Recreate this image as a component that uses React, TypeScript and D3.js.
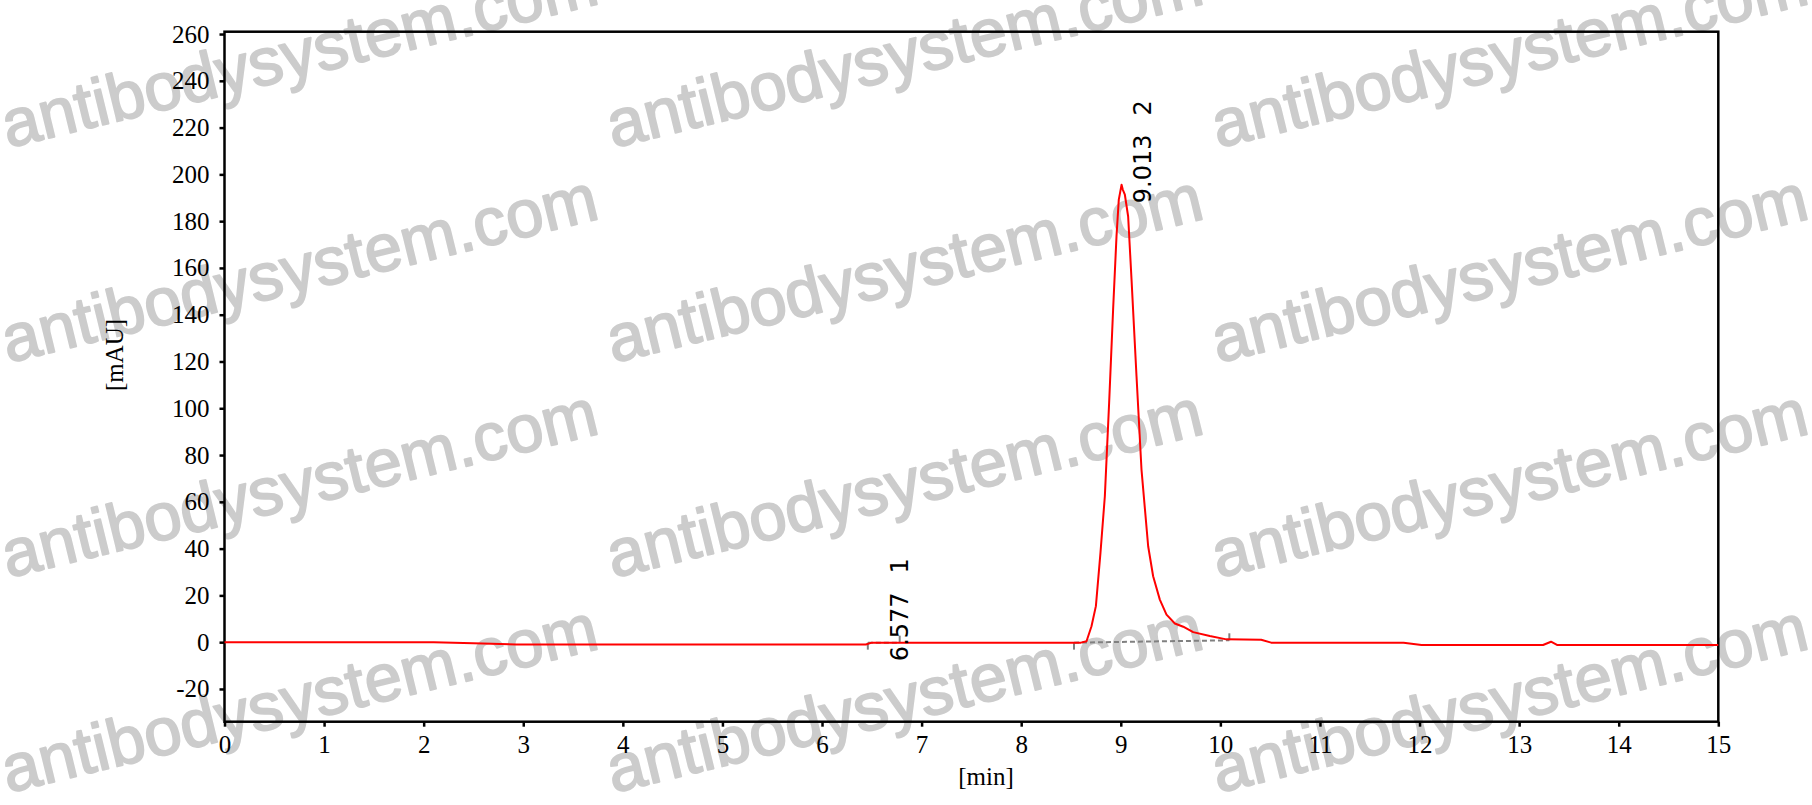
import React, { useEffect, useRef } from 'react';
import { axisBottom, axisLeft, line, scaleLinear, select } from 'd3';

// chromatogram trace
const timeMin = [
  0, 2.1, 2.5, 2.93, 6.44, 6.5, 8.6, 8.656, 8.706, 8.75, 8.796, 8.84, 8.883,
  8.923, 8.957, 8.98, 9.008, 9.02, 9.041, 9.074, 9.108, 9.158, 9.208, 9.275,
  9.325, 9.392, 9.459, 9.543, 9.627, 9.727, 9.894, 10.06, 10.41, 10.51, 11.84,
  12.02, 13.24, 13.32, 13.38, 15,
];
const signalMAU = [
  0, 0, -0.5, -1, -1, -0.2, -0.2, 0.4, 6.8, 15.4, 38.2, 62.4, 102.3, 142.2,
  173.5, 189.2, 195.6, 193.5, 191.3, 182, 155, 113.7, 73.8, 41, 28.2, 18.2,
  11.8, 8, 6.6, 4.3, 2.6, 1.2, 1, -0.2, -0.2, -1.2, -1.2, 0.2, -1.2, -1.2,
];

const xTicks = [0, 1, 2, 3, 4, 5, 6, 7, 8, 9, 10, 11, 12, 13, 14, 15];
const yTicks = [-20, 0, 20, 40, 60, 80, 100, 120, 140, 160, 180, 200, 220, 240, 260];

const peakNumbers = [1, 2];
const peakTimes = [6.577, 9.013];
const peakHeights = [-0.2, 195.6];
const peakStarts = [6.46, 8.53];
const peakEnds = [6.78, 10.09];
const peakStartLevels = [-0.2, -0.2];
const peakEndLevels = [-0.2, 0.8];

const watermarkText = 'antibodysystem.com';

const W = 1812;
const H = 805;
const left = 224.5;
const right = 1718.3;
const top = 31.7;
const bottom = 721.7;

const App: React.FC = () => {
  const svgRef = useRef<SVGSVGElement>(null);

  useEffect(() => {
    const svg = select(svgRef.current);
    svg.selectAll('*').remove();

    const x = scaleLinear().domain([0, 15]).range([left, right]);
    const y = scaleLinear().domain([-34, 261]).range([bottom, top]);

    // watermark grid
    const wm = svg.append('g').attr('class', 'watermark');
    [8, 613, 1218].forEach((cx) => {
      [148, 363, 578, 793].forEach((cy) => {
        wm.append('text')
          .attr('transform', `translate(${cx}, ${cy}) rotate(-13.7)`)
          .attr('font-family', '"Liberation Sans", Arial, sans-serif')
          .attr('font-size', 67)
          .attr('fill', '#cccccc')
          .attr('stroke', '#cccccc')
          .attr('stroke-width', 1.8)
          .attr('stroke-linejoin', 'round')
          .text(watermarkText);
      });
    });

    // axes
    const yAxis = axisLeft(y)
      .tickValues(yTicks)
      .tickSize(5)
      .tickPadding(10)
      .tickFormat((d) => String(d));
    const xAxis = axisBottom(x)
      .tickValues(xTicks)
      .tickSize(5)
      .tickPadding(8.5)
      .tickFormat((d) => String(d));

    const gy = svg.append('g').attr('transform', `translate(${left},0)`).call(yAxis);
    const gx = svg.append('g').attr('transform', `translate(0,${bottom})`).call(xAxis);
    [gx, gy].forEach((g) => {
      g.select('.domain').remove();
      g.selectAll('.tick line').attr('stroke', '#000').attr('stroke-width', 2.5);
      g.selectAll('.tick text')
        .attr('fill', '#000')
        .attr('font-family', '"Liberation Serif", "Times New Roman", serif')
        .attr('font-size', 25);
    });

    // frame
    svg.append('rect')
      .attr('x', left)
      .attr('y', top)
      .attr('width', right - left)
      .attr('height', bottom - top)
      .attr('fill', 'none')
      .attr('stroke', '#000')
      .attr('stroke-width', 2.5);

    // axis titles
    svg.append('text')
      .attr('transform', `translate(${986}, ${785})`)
      .attr('text-anchor', 'middle')
      .attr('font-family', '"Liberation Serif", "Times New Roman", serif')
      .attr('font-size', 25)
      .text('[min]');
    svg.append('text')
      .attr('transform', `translate(${123}, ${355}) rotate(-90)`)
      .attr('text-anchor', 'middle')
      .attr('font-family', '"Liberation Serif", "Times New Roman", serif')
      .attr('font-size', 25)
      .text('[mAU]');

    // integration baselines
    const marks = svg.append('g').attr('stroke', '#808080').attr('stroke-width', 2).attr('fill', 'none');
    peakStarts.forEach((s, i) => {
      const e = peakEnds[i];
      marks.append('line')
        .attr('x1', x(s)).attr('y1', y(peakStartLevels[i]))
        .attr('x2', x(e)).attr('y2', y(peakEndLevels[i]))
        .attr('stroke-dasharray', '5,3');
      marks.append('line')
        .attr('x1', x(s)).attr('x2', x(s))
        .attr('y1', y(peakStartLevels[i])).attr('y2', y(peakStartLevels[i]) + 7);
      marks.append('line')
        .attr('x1', x(e)).attr('x2', x(e))
        .attr('y1', y(peakEndLevels[i]) - 7).attr('y2', y(peakEndLevels[i]));
    });

    // trace
    const pts = timeMin.map((t, i) => [t, signalMAU[i]] as [number, number]);
    const lineGenerator = line<[number, number]>()
      .x((d) => x(d[0]))
      .y((d) => y(d[1]));
    svg.append('path')
      .attr('d', lineGenerator(pts))
      .attr('fill', 'none')
      .attr('stroke', '#ff0000')
      .attr('stroke-width', 2)
      .attr('stroke-linejoin', 'round');

    // peak labels
    peakTimes.forEach((rt, i) => {
      const t = svg.append('text')
        .attr('transform', `translate(${x(rt) + 28.5}, ${y(peakHeights[i]) + 18.5}) rotate(-90)`)
        .attr('font-family', '"DejaVu Sans", sans-serif')
        .attr('font-size', 24)
        .attr('fill', '#000');
      t.append('tspan').text(rt.toFixed(3));
      t.append('tspan').attr('dx', 19).text(String(peakNumbers[i]));
    });
  }, []);

  return (
    <svg
      ref={svgRef}
      width={W}
      height={H}
      style={{ position: 'absolute', left: 0, top: 0, background: '#fff' }}
    />
  );
};

export default App;
